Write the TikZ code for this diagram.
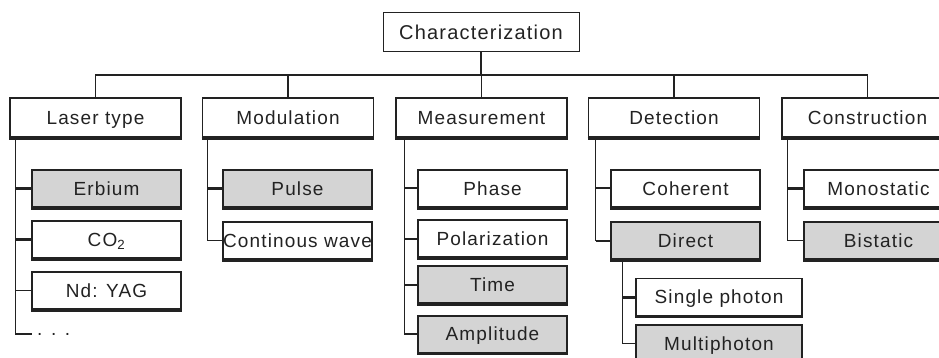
\documentclass[tikz,border=0pt]{standalone}
\usepackage{fontspec}
\setmainfont{Liberation Sans}[LetterSpace=6]
\definecolor{boxgray}{HTML}{D4D4D4}
\definecolor{ink}{HTML}{222222}
\begin{document}
\begin{tikzpicture}[x=1pt,y=-1pt,
  base/.style={draw=ink, text=ink, rectangle, inner sep=0pt, text height=13.6pt, text depth=0pt, font=\fontsize{19}{21}\selectfont},
  topbox/.style={base, line width=1pt, minimum width=196, minimum height=39, text height=14.3pt, font=\fontsize{20}{22}\selectfont},
  catbox/.style={base, line width=1.6pt, minimum width=171, minimum height=39},
  leaf/.style={base, line width=1.3pt, minimum width=149, minimum height=37},
  sel/.style={fill=boxgray},
  trunk/.style={draw=ink, line width=1.2pt},
  tick/.style={draw=ink, line width=3pt},
  midtick/.style={draw=ink, line width=2pt}]
\useasboundingbox (0,0) rectangle (939,358);
\begin{scope}
\clip (0,0) rectangle (939,358);
% top
\node[topbox] (char) at (481,32.5) {Characterization};
% categories
\node[catbox] (laser) at (95.5,117.5) {Laser type};
\node[catbox] (mod) at (288,117.5) {Modulation};
\node[catbox] (meas) at (481.5,117.5) {Measurement};
\node[catbox] (det) at (674,117.5) {Detection};
\node[catbox] (cons) at (867.5,117.5) {Construction};
% laser type
\node[leaf,sel] (erb) at (106.5,188.5) {Erbium};
\node[leaf] (co2) at (106.5,239.5) {CO\textsubscript{2}};
\node[leaf] (nd) at (106.5,290.5) {Nd: YAG};
\node[anchor=west, inner xsep=5pt, inner ysep=0pt, text=ink, font=\fontsize{19}{21}\selectfont] (dots) at (32,334) {\raisebox{-3pt}{. . .}};
% modulation
\node[leaf,sel] (pulse) at (297.5,188.5) {Pulse};
\node[leaf] (cw) at (297.5,240.5) {Continous wave};
% measurement
\node[leaf] (phase) at (492.5,188.5) {Phase};
\node[leaf] (pol) at (492.5,238.5) {Polarization};
\node[leaf,sel,line width=2pt] (time) at (492.5,284.5) {Time};
\node[leaf,sel,line width=2pt] (amp) at (492.5,334) {Amplitude};
% detection
\node[leaf] (coh) at (685.5,188.5) {Coherent};
\node[leaf,sel] (dir) at (685.5,240.5) {Direct};
\node[leaf,minimum width=166] (single) at (719,297) {Single photon};
\node[leaf,sel,minimum width=166] (multi) at (719,343.5) {Multiphoton};
% construction
\node[leaf] (mono) at (878.5,188.5) {Monostatic};
\node[leaf,sel] (bist) at (878.5,240.5) {Bistatic};
% thicker bottom edges
\foreach \n in {laser,mod,meas,det,cons,erb,co2,nd,pulse,cw,phase,pol,time,amp,coh,dir,single,multi,mono,bist}
  \draw[draw=ink, line width=2.6pt] ([yshift=-0.6pt]\n.south west) -- ([yshift=-0.6pt]\n.south east);
% bus
\coordinate (bus) at (0,75);
\draw[trunk] (laser.north) -- (laser.north |- bus) -- (cons.north |- bus) -- (cons.north);
\draw[trunk] (char.south) -- (char.south |- bus);
\draw[trunk] (mod.north) -- (mod.north |- bus);
\draw[trunk] (meas.north) -- (meas.north |- bus);
\draw[trunk] (det.north) -- (det.north |- bus);
% trunks
\coordinate (lt) at ([xshift=6]laser.south west);
\coordinate (mt) at ([xshift=6]mod.south west);
\coordinate (et) at ([xshift=9]meas.south west);
\coordinate (dt) at ([xshift=8]det.south west);
\coordinate (ct) at ([xshift=6]cons.south west);
\coordinate (rt) at ([xshift=12]dir.south west);
\draw[trunk] (lt) |- (dots.west);
\draw[tick] (lt |- erb.west) -- (erb.west);
\draw[tick] (lt |- co2.west) -- (co2.west);
\draw[trunk] (lt |- nd.west) -- (nd.west);
\draw[trunk] (mt) |- (cw.west);
\draw[tick] (mt |- pulse.west) -- (pulse.west);
\draw[trunk] (et) |- (amp.west);
\draw[midtick] (et |- phase.west) -- (phase.west);
\draw[midtick] (et |- pol.west) -- (pol.west);
\draw[midtick] (et |- time.west) -- (time.west);
\draw[trunk] (dt) |- (dir.west);
\draw[midtick] (dt |- coh.west) -- (coh.west);
\draw[midtick] (dt |- dir.west) -- (dir.west);
\draw[trunk] (rt) |- (multi.west);
\draw[tick] (rt |- single.west) -- (single.west);
\draw[trunk] (ct) |- (bist.west);
\draw[tick] (ct |- mono.west) -- (mono.west);
\end{scope}
\end{tikzpicture}
\end{document}
